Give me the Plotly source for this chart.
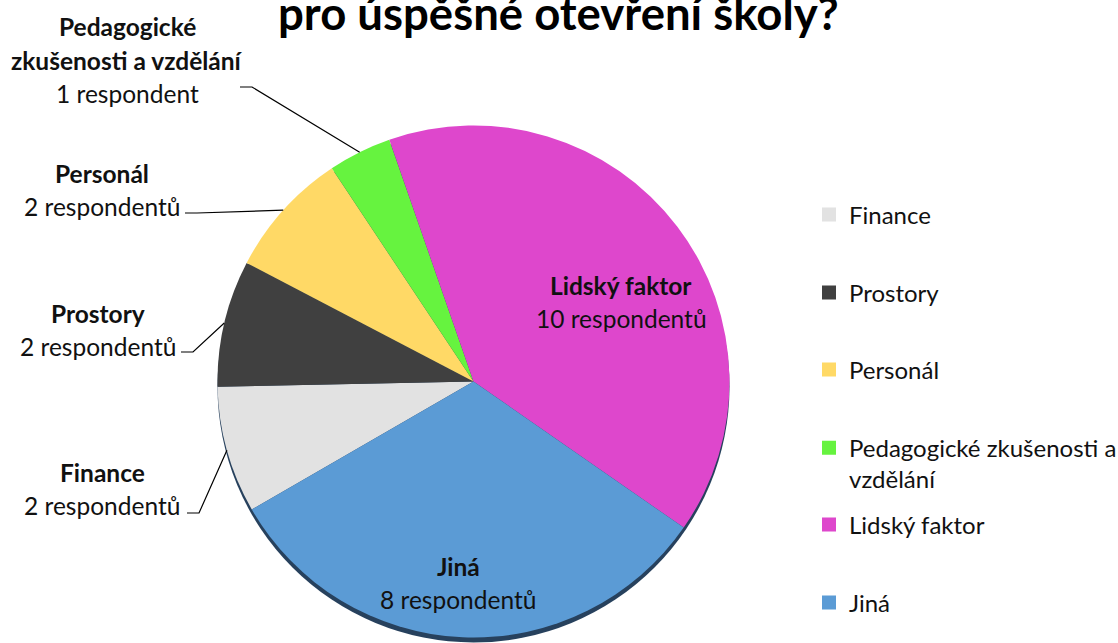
import numpy as np
import plotly.graph_objects as go

# ---------------- data ----------------
categories = ["Finance", "Prostory", "Personál",
              "Pedagogické zkušenosti a vzdělání", "Lidský faktor", "Jiná"]
respondents = [2, 2, 2, 1, 10, 8]
count_labels = ["2 respondentů", "2 respondentů", "2 respondentů",
                "1 respondent", "10 respondentů", "8 respondentů"]
label_name_lines = [["Finance"], ["Prostory"], ["Personál"],
                    ["Pedagogické", "zkušenosti a vzdělání"],
                    ["Lidský faktor"], ["Jiná"]]
legend_labels = ["Finance", "Prostory", "Personál",
                 "Pedagogické zkušenosti a<br>vzdělání", "Lidský faktor", "Jiná"]
title_text = "pro úspěšné otevření školy?"

# ---------------- styles / layout ----------------
colors = ["#E2E2E2", "#404040", "#FFD966", "#66F33F", "#DE47CC", "#5B9BD5"]
W, H = 1118, 643
CX, CY, R = 473.5, 381.5, 256
ROT = 240
FONT = "Lato"
TXT = "#111111"
LFS = 24.5   # data label font size
GFS = 24     # legend font size
LS = 33      # label line spacing (px)

# label block centres (px) and leader-line starts (px) for outside labels
label_centre = [(102, 489), (98, 330), (102, 190), (127, 60), (621, 302), (458, 583)]
leader_start = {0: (187, 513), 1: (181, 352), 2: (185, 213), 3: (240, 87)}
legend_first_line_y = [215, 293, 370, 448, 525, 603]
LEG_X = 809


def paper(x, y):
    return x / W, 1 - y / H


fig = go.Figure()

# shadow under pie
sx0, sy0 = paper(CX - R, CY - R + 5)
sx1, sy1 = paper(CX + R, CY + R + 5)
fig.add_shape(type="circle", xref="paper", yref="paper", x0=sx0, x1=sx1, y0=sy1, y1=sy0,
              fillcolor="#27415D", line=dict(width=0), layer="below")

dx0, _ = paper(CX - R, 0)
dx1, _ = paper(CX + R, 0)
_, dy0 = paper(0, CY + R)
_, dy1 = paper(0, CY - R)

fig.add_trace(go.Pie(
    labels=categories, values=respondents, sort=False, direction="clockwise",
    rotation=ROT, marker=dict(colors=colors, line=dict(width=0)),
    textinfo="none", showlegend=False, domain=dict(x=[dx0, dx1], y=[dy0, dy1]),
    hovertemplate="%{label}: %{value}<extra></extra>",
))

# dummy traces for the legend (one legend per entry for exact spacing)
LH = 1.3 * GFS
for i, (lab, col) in enumerate(zip(legend_labels, colors)):
    key = "legend" if i == 0 else f"legend{i + 1}"
    fig.add_trace(go.Scatter(x=[None], y=[None], mode="markers", name=lab,
                             marker=dict(symbol="square", size=14, color=col),
                             legend=key, showlegend=True, hoverinfo="skip"))
    nlines = lab.count("<br>") + 1
    ymid = legend_first_line_y[i] + (nlines - 1) * LH / 2
    lx, ly = paper(LEG_X, ymid)
    fig.update_layout(**{key: dict(x=lx, y=ly, xanchor="left", yanchor="middle",
                                   font=dict(family=FONT, size=GFS, color=TXT),
                                   bgcolor="rgba(0,0,0,0)", valign="top",
                                   itemsizing="trace", itemclick=False)})

# slice geometry
vals = np.array(respondents, dtype=float)
total = vals.sum()
starts = ROT + 360 * np.concatenate([[0], np.cumsum(vals)[:-1]]) / total
mids = np.radians(starts + 180 * vals / total)

# data labels
for i in range(len(categories)):
    lines = [f"<b>{t}</b>" for t in label_name_lines[i]] + [count_labels[i]]
    n = len(lines)
    xc, yc = label_centre[i]
    for k, t in enumerate(lines):
        yy = yc + (k - (n - 1) / 2) * LS
        px, py = paper(xc, yy)
        fig.add_annotation(x=px, y=py, xref="paper", yref="paper", text=t, showarrow=False,
                           xanchor="center", yanchor="middle",
                           font=dict(family=FONT, size=LFS, color=TXT))

# leader lines
for i, (sxp, syp) in leader_start.items():
    ex = CX + R * np.sin(mids[i])
    ey = CY - R * np.cos(mids[i])
    pts = [(sxp, syp), (sxp + 12, syp), (ex, ey)]
    pp = [paper(a, b) for a, b in pts]
    path = "M " + " L ".join(f"{a},{b}" for a, b in pp)
    fig.add_shape(type="path", xref="paper", yref="paper", path=path,
                  line=dict(color="#000000", width=1.2))

# title (partially cut off at the top as in the source)
tx, ty = paper(558, 12)
fig.add_annotation(x=tx, y=ty, xref="paper", yref="paper", text=f"<b>{title_text}</b>",
                   showarrow=False, xanchor="center", yanchor="middle",
                   font=dict(family=FONT, size=45.5, color="#000000"))

fig.update_layout(
    width=W, height=H, margin=dict(l=0, r=0, t=0, b=0, autoexpand=False),
    paper_bgcolor="white", plot_bgcolor="white",
    xaxis=dict(visible=False), yaxis=dict(visible=False),
    showlegend=True,
)

fig.write_html("out.html", config={"displayModeBar": False},
               post_script="document.body.style.margin='0';document.body.style.overflow='hidden';")
